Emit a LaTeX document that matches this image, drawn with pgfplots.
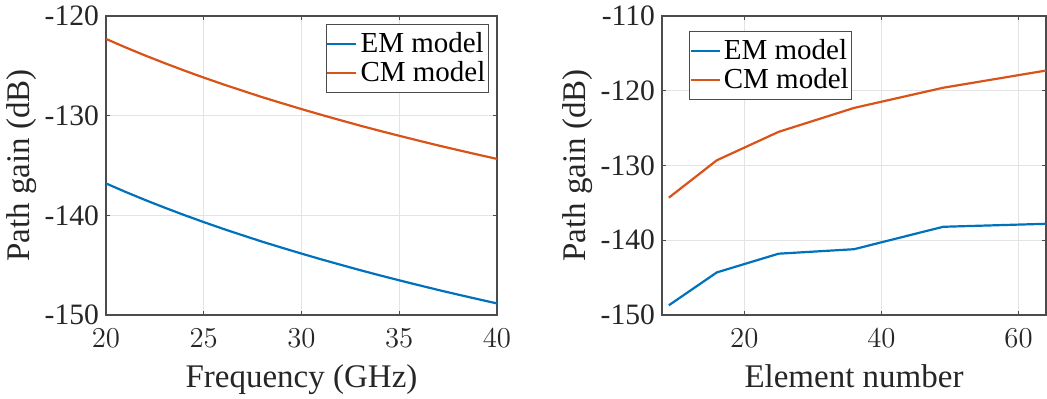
\documentclass[border=0pt]{standalone}
\usepackage{fontspec}
\setmainfont{Liberation Serif}
\usepackage{pgfplots}
\pgfplotsset{compat=1.18}
\definecolor{mblue}{rgb}{0,0.447,0.741}
\definecolor{morange}{rgb}{0.85,0.325,0.098}
\definecolor{axgray}{rgb}{0.15,0.15,0.15}
\definecolor{linegray}{rgb}{0.3,0.3,0.3}
\definecolor{gridgray}{rgb}{0.89,0.89,0.89}
\pgfplotsset{
 mystyle/.style={
  scale only axis, height=149.5pt,
  axis line style={linegray, line width=0.6pt},
  every tick/.style={linegray, line width=0.6pt},
  major tick length=2pt,
  tick align=inside,
  xtick pos=both, ytick pos=both,
  grid=major, major grid style={gridgray, line width=0.6pt},
  tick label style={font=\fontsize{14.8}{17}\selectfont, text=axgray},
  xticklabel style={anchor=base, yshift=-16.5pt},
  label style={font=\fontsize{16.5}{19}\selectfont, text=axgray},
  xlabel style={at={(axis description cs:0.5,0)}, anchor=base, yshift=-36.5pt},
  ylabel style={at={(axis description cs:0,0.5)}, anchor=center, yshift=42pt},
  legend style={font=\fontsize{14.5}{17}\selectfont, draw=linegray, line width=0.6pt, text=black, inner xsep=0pt, inner ysep=2.5pt, nodes={inner sep=1.5pt}},
  legend cell align=left,
  legend image code/.code={\draw[##1, line width=1.1pt] (0pt,0pt) -- (14.5pt,0pt);},
  every axis plot/.append style={line width=1.1pt},
 }
}
\begin{document}
\begin{tikzpicture}
\path[use as bounding box] (0,0) rectangle (523.5pt,199.5pt);
\begin{axis}[mystyle, at={(53pt,42pt)}, anchor=south west, width=195.5pt,
  xmin=20, xmax=40, ymin=-150, ymax=-120,
  xtick={20,25,30,35,40},
  ytick={-150,-140,-130,-120}, yticklabels={-150,-140,-130,-120},
  xlabel={Frequency (GHz)}, ylabel={Path gain (dB)},
  legend style={at={(axis description cs:1,1)}, anchor=north east, xshift=-4pt, yshift=-4pt}]
\addplot[mblue] coordinates {(20,-136.80)(21,-137.65)(22,-138.46)(23,-139.23)(24,-139.97)(25,-140.68)(26,-141.36)(27,-142.01)(28,-142.65)(29,-143.25)(30,-143.84)(31,-144.41)(32,-144.96)(33,-145.50)(34,-146.02)(35,-146.52)(36,-147.01)(37,-147.49)(38,-147.95)(39,-148.40)(40,-148.84)};
\addlegendentry{EM model}
\addplot[morange] coordinates {(20,-122.30)(21,-123.15)(22,-123.96)(23,-124.73)(24,-125.47)(25,-126.18)(26,-126.86)(27,-127.51)(28,-128.15)(29,-128.75)(30,-129.34)(31,-129.91)(32,-130.46)(33,-131.00)(34,-131.52)(35,-132.02)(36,-132.51)(37,-132.99)(38,-133.45)(39,-133.90)(40,-134.34)};
\addlegendentry{CM model}
\end{axis}
\begin{axis}[mystyle, at={(331pt,42pt)}, anchor=south west, width=192pt,
  xmin=8, xmax=64, ymin=-150, ymax=-110,
  xtick={20,40,60},
  ytick={-150,-140,-130,-120,-110}, yticklabels={-150,-140,-130,-120,-110},
  xlabel={Element number}, ylabel={Path gain (dB)},
  legend style={at={(axis description cs:0,1)}, anchor=north west, xshift=13.5pt, yshift=-7.5pt}]
\addplot[mblue] coordinates {(9,-148.7)(16,-144.3)(25,-141.8)(36,-141.2)(49,-138.2)(64,-137.8)};
\addlegendentry{EM model}
\addplot[morange] coordinates {(9,-134.3)(16,-129.3)(25,-125.5)(36,-122.3)(49,-119.6)(64,-117.3)};
\addlegendentry{CM model}
\end{axis}
\end{tikzpicture}
\end{document}
